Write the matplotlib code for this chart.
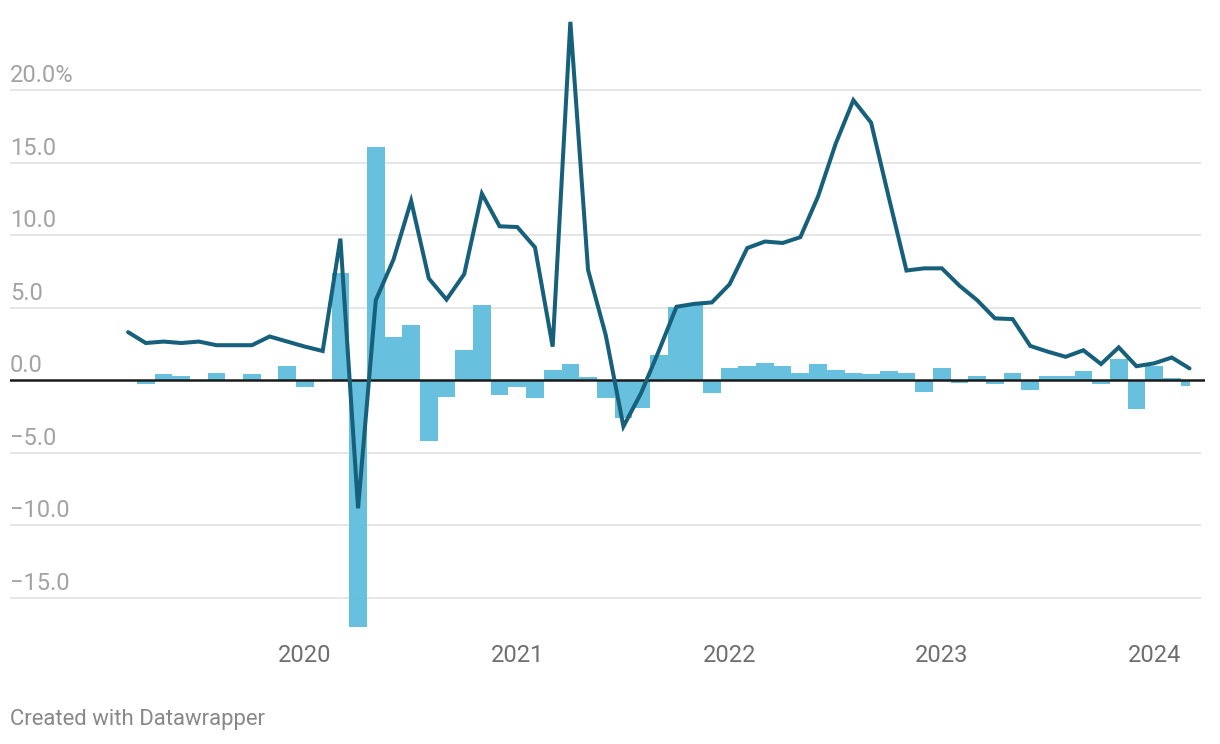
import matplotlib
matplotlib.use("Agg")
import matplotlib.pyplot as plt
import matplotlib.transforms as mtransforms

plt.rcParams['font.family'] = ['Roboto', 'DejaVu Sans']

# monthly data, Mar 2019 -> Mar 2024
start_year, start_month = 2019, 3

# line series (year-on-year %)
line_vals = [
    3.3, 2.55, 2.65, 2.55, 2.65, 2.4, 2.4, 2.4, 3.0, 2.65,            # 2019 Mar-Dec
    2.3, 2.0, 9.75, -8.85, 5.5, 8.3, 12.35, 7.0, 5.55, 7.3, 12.85, 10.6,  # 2020
    10.55, 9.15, 2.3, 24.7, 7.6, 3.1, -3.2, -0.9, 2.0, 5.05, 5.25, 5.35,  # 2021
    6.6, 9.1, 9.55, 9.45, 9.85, 12.65, 16.3, 19.3, 17.75, 12.6, 7.55, 7.7,  # 2022
    7.7, 6.5, 5.5, 4.25, 4.2, 2.35, 1.95, 1.6, 2.05, 1.1, 2.25, 0.95,     # 2023
    1.15, 1.55, 0.8,                                                    # 2024
]

# bar series (month-on-month %)
bar_vals = [
    -0.1, -0.3, 0.4, 0.3, 0.0, 0.45, 0.0, 0.4, 0.0, 1.0,
    -0.5, 0.0, 7.4, -17.05, 16.1, 3.0, 3.8, -4.2, -1.2, 2.05, 5.2, -1.0,
    -0.5, -1.25, 0.7, 1.1, 0.2, -1.25, -2.6, -1.9, 1.7, 5.05, 5.2, -0.9,
    0.8, 1.0, 1.2, 1.0, 0.5, 1.1, 0.7, 0.5, 0.4, 0.6, 0.5, -0.85,
    0.8, -0.2, 0.25, -0.3, 0.45, -0.7, 0.25, 0.25, 0.65, -0.3, 1.45, -2.0,
    0.95, 0.15, -0.4,
]

year_ticks = [2020, 2021, 2022, 2023, 2024]
y_ticks = [-15, -10, -5, 0, 5, 10, 15, 20]
y_labels = ['\u221215.0', '\u221210.0', '\u22125.0', '0.0', '5.0', '10.0', '15.0', '20.0%']

LINE_C = '#17607b'
BAR_C = '#5fbddc'
GRID_C = '#e6e6e6'

# month index relative to Jan 2020
months = [(start_year - 2020) * 12 + (start_month - 1) + i for i in range(len(line_vals))]
m_first, m_last = months[0], months[-1]

W, H = 1220, 744
fig = plt.figure(figsize=(W / 100, H / 100), dpi=100)

px_per_month = 17.69
x0_px = 305  # Jan 2020
ax_left_px, ax_right_px = 10, 1205
ylo, yhi = -17.5, 25
ax = fig.add_axes([ax_left_px / W, (H - 633.75) / H,
                   (ax_right_px - ax_left_px) / W, (633.75 - 17.5) / H])
ax.set_xlim((ax_left_px - x0_px) / px_per_month, (ax_right_px - x0_px) / px_per_month)
ax.set_ylim(ylo, yhi)
ax.axis('off')

# gridlines
grid_right = (1200 - ax_left_px) / (ax_right_px - ax_left_px)
for v in y_ticks:
    if v == 0:
        continue
    ax.axhline(v, xmin=0, xmax=grid_right, color=GRID_C, lw=1.4, zorder=1)

# bars, clipped to the data domain at both ends
lefts, widths = [], []
for m in months:
    l = max(m - 0.5, m_first)
    r = min(m + 0.5, m_last)
    lefts.append(l)
    widths.append(r - l)
ax.bar(lefts, bar_vals, width=widths, align='edge', color=BAR_C,
       alpha=0.95, linewidth=0, zorder=2)

ax.axhline(0, color='#1a1a1a', lw=1.8, zorder=3)

ax.plot(months, line_vals, color=LINE_C, lw=2.9, solid_joinstyle='miter',
        solid_capstyle='round', zorder=4)

# y labels above gridlines
ytrans = mtransforms.blended_transform_factory(ax.transAxes, ax.transData)
for v, lab in zip(y_ticks, y_labels):
    ax.annotate(lab, xy=(0, v), xycoords=ytrans, xytext=(0, 5.5),
                textcoords='offset points', ha='left', va='baseline',
                fontsize=17, color='#a3a3a3')

# x labels
xtrans = mtransforms.blended_transform_factory(ax.transData, fig.transFigure)
for yr in year_ticks:
    m = (yr - 2020) * 12
    ax.text(m, (H - 655) / H, str(yr), transform=xtrans, ha='center', va='center',
            fontsize=17, color='#6e6e6e')

fig.text(10 / W, (H - 720) / H, 'Created with Datawrapper', ha='left', va='center',
         fontsize=15.9, color='#888888')

fig.savefig('out.png', dpi=100)
